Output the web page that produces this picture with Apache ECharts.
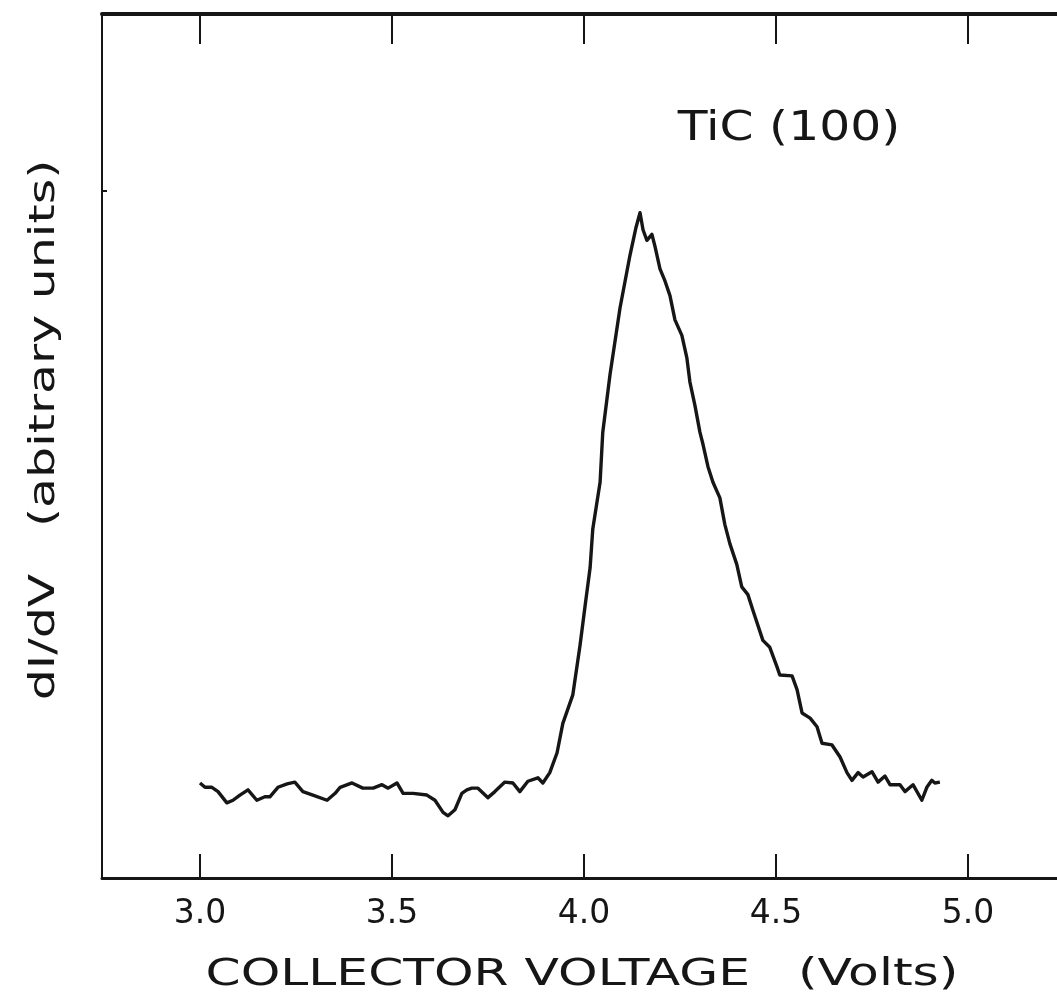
<!DOCTYPE html>
<html>
<head>
<meta charset="utf-8">
<script src="https://cdn.jsdelivr.net/npm/echarts@6/dist/echarts.min.js"></script>
<style>
html,body{margin:0;padding:0;background:#fff;}
#chart{width:1057px;height:1001px;}
</style>
</head>
<body>
<div id="chart"></div>
<script>
// Collector voltage (V)
const voltage = [
3.000,3.013,3.031,3.047,3.070,3.086,3.104,3.125,3.148,3.169,3.182,3.203,3.227,3.247,3.268,3.294,3.331,3.352,3.365,3.396,
3.424,3.451,3.474,3.490,3.513,3.529,3.555,3.591,3.612,3.633,3.646,3.664,3.682,3.695,3.708,3.724,3.750,3.768,3.794,3.815,
3.833,3.854,3.880,3.893,3.911,3.930,3.945,3.971,3.990,4.003,4.016,4.023,4.042,4.049,4.068,4.094,4.120,4.135,4.146,4.154,
4.164,4.177,4.185,4.198,4.211,4.224,4.237,4.255,4.268,4.276,4.289,4.302,4.310,4.323,4.336,4.354,4.367,4.380,4.398,4.411,
4.427,4.440,4.466,4.484,4.503,4.510,4.542,4.555,4.568,4.589,4.607,4.620,4.646,4.667,4.685,4.698,4.714,4.727,4.750,4.766,
4.784,4.797,4.823,4.836,4.857,4.880,4.893,4.906,4.914,4.927
];
// dI/dV (arbitrary units)
const dIdV = [
11.0,10.5,10.5,10.0,8.7,9.0,9.6,10.2,9.0,9.4,9.4,10.5,10.9,11.1,10.0,9.6,9.0,9.8,10.5,11.0,
10.4,10.4,10.8,10.4,11.0,9.8,9.8,9.6,9.0,7.6,7.2,7.9,9.8,10.2,10.4,10.4,9.3,10.0,11.1,11.0,
10.0,11.2,11.6,11.0,12.2,14.5,17.9,21.2,27.0,31.5,35.9,40.4,45.8,51.6,58.3,66.0,72.1,75.2,77.0,75.0,
73.8,74.5,73.1,70.5,69.1,67.4,64.6,62.8,60.2,57.4,54.7,51.6,50.2,47.6,45.8,44.0,40.9,38.7,36.3,33.7,
32.8,31.0,27.5,26.7,24.4,23.5,23.4,21.8,19.1,18.5,17.5,15.6,15.4,14.0,12.2,11.3,12.2,11.7,12.3,11.1,
11.8,10.8,10.8,10.0,10.8,9.0,10.5,11.3,11.0,11.1
];
const xTicks = [3.0, 3.5, 4.0, 4.5, 5.0];
const xTickLabels = ['3.0', '3.5', '4.0', '4.5', '5.0'];
const yTicks = [79.6];
const xTitle = 'COLLECTOR VOLTAGE   (Volts)';
const yTitle = 'dI/dV   (abitrary units)';
const sampleLabel = 'TiC (100)';

const X_MIN = 2.7448, X_MAX = 5.232;
const FONT = 'DejaVu Sans';
const INK = '#161616';

const points = voltage.map((v, i) => [v, dIdV[i]]);

const chart = echarts.init(document.getElementById('chart'), null, {renderer: 'canvas'});
chart.setOption({
  animation: false,
  backgroundColor: '#ffffff',
  grid: {left: 102, right: 0, top: 14, bottom: 123, containLabel: false},
  xAxis: [
    {
      type: 'value', min: X_MIN, max: X_MAX, position: 'bottom',
      axisLine: {show: true, lineStyle: {color: INK, width: 3}},
      axisTick: {show: true, inside: true, length: 24, customValues: xTicks, lineStyle: {color: INK, width: 2}},
      axisLabel: {show: true, customValues: xTicks, formatter: v => xTickLabels[xTicks.findIndex(t => Math.abs(t - v) < 1e-6)] || '',
        color: INK, fontFamily: FONT, fontSize: 33, margin: 20},
      splitLine: {show: false}
    },
    {
      type: 'value', min: X_MIN, max: X_MAX, position: 'top',
      axisLine: {show: true, lineStyle: {color: INK, width: 4}},
      axisTick: {show: true, inside: true, length: 30, customValues: xTicks, lineStyle: {color: INK, width: 2}},
      axisLabel: {show: false},
      splitLine: {show: false}
    }
  ],
  yAxis: {
    type: 'value', min: 0, max: 100, position: 'left',
    axisLine: {show: true, lineStyle: {color: INK, width: 2}},
    axisTick: {show: true, inside: true, length: 5, customValues: yTicks, lineStyle: {color: INK, width: 2}},
    axisLabel: {show: false},
    splitLine: {show: false}
  },
  graphic: [
    {type: 'text', x: 789, y: 130, scaleX: 1.22, style: {text: sampleLabel, font: '40px "DejaVu Sans"', fill: INK, textAlign: 'center', textVerticalAlign: 'middle'}},
    {type: 'text', x: 582, y: 975, scaleX: 1.36, style: {text: xTitle, font: '37px "DejaVu Sans"', fill: INK, textAlign: 'center', textVerticalAlign: 'middle'}},
    {type: 'text', x: 45, y: 430, rotation: Math.PI / 2, scaleX: 1.36, style: {text: yTitle, font: '36px "DejaVu Sans"', fill: INK, textAlign: 'center', textVerticalAlign: 'middle'}}
  ],
  series: [{
    type: 'line', data: points, xAxisIndex: 0, yAxisIndex: 0,
    showSymbol: false, smooth: false,
    lineStyle: {color: INK, width: 3.4, join: 'round'}
  }]
});
</script>
</body>
</html>
